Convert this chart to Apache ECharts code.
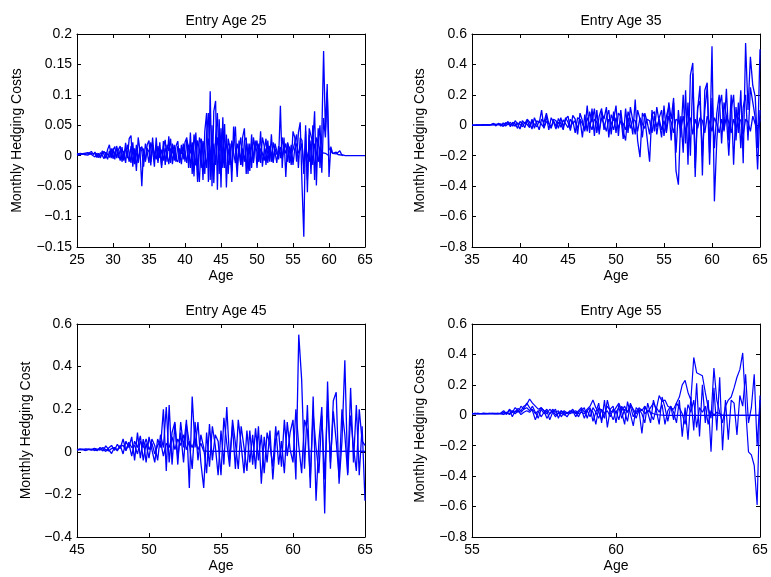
<!DOCTYPE html>
<html>
<head>
<meta charset="utf-8">
<script src="https://cdn.jsdelivr.net/npm/echarts@6/dist/echarts.min.js"></script>
<style>html,body{margin:0;padding:0;background:#fff;}#c{width:771px;height:577px;}</style>
</head>
<body>
<div id="c"></div>
<script>
// ---------- DATA ----------
const titles = ['Entry Age 25', 'Entry Age 35', 'Entry Age 45', 'Entry Age 55'];
const yNames = ['Monthly Hedging Costs', 'Monthly Hedging Costs', 'Monthly Hedging Cost', 'Monthly Hedging Costs'];
const xName = 'Age';
const xRanges = [[25, 65, 5], [35, 65, 5], [45, 65, 5], [55, 65, 5]];
const yRanges = [[-0.15, 0.2, 0.05], [-0.8, 0.6, 0.2], [-0.4, 0.6, 0.2], [-0.8, 0.6, 0.2]];

// Panel 1: entry age 25, quarterly samples starting at age 25
const p1Start = 25, p1Step = 0.25;
const p1PathA = [
 0.002,0.003,0.002,0.004, 0.003,0.004,0.003,0.005, 0.007,0.002,0.006,-0.003, 0.004,-0.004,0.008,0.002,
 -0.004,0.010,0.018,-0.002, 0.012,-0.006,0.016,0.004, -0.008,0.014,-0.006,0.021, -0.004,0.028,0.033,-0.018,
 0.012,-0.025,0.030,0.008, -0.050,0.012,-0.010,0.018, 0.025,-0.016,0.030,-0.006, 0.018,-0.012,0.022,-0.016,
 0.014,0.026,-0.010,0.032, -0.012,0.020,-0.008,0.016, 0.024,-0.012,0.018,-0.006, 0.022,0.030,-0.020,0.038,
 -0.030,0.035,0.012,-0.043, 0.030,0.020,-0.040,0.040, 0.070,-0.043,0.106,-0.050, 0.073,0.090,-0.056,0.060,
 -0.052,0.063,-0.020,0.035, -0.030,0.020,-0.043,0.048, 0.010,-0.035,0.025,-0.015, 0.030,0.045,-0.030,0.020,
 -0.025,0.035,-0.010,0.025, -0.020,0.020,-0.012,0.030, 0.016,-0.015,0.025,-0.010, 0.035,-0.012,0.020,0.008,
 -0.006,0.082,-0.020,0.030, -0.035,0.022,0.010,-0.015, 0.040,0.030,-0.010,0.038, 0.055,-0.047,-0.133,0.050,
 -0.060,0.045,0.048,0.020, 0.073,-0.049,0.045,-0.020, 0.035,0.172,0.040,0.118, -0.035,0.015,0.004,0.005,
 0.003,0.006,0.008,0.002, 0.001,0,0,0, 0,0,0,0, 0,0,0,0, 0
];
const p1PathB = [
 0.001,0.002,0.003,0.002, 0.004,0.002,0.005,0.003, 0.002,0.005,-0.002,0.004, 0.006,-0.002,0.003,0.007,
 0.002,-0.006,0.008,-0.004, 0.009,0.015,-0.004,0.010, 0.016,-0.010,0.008,-0.012, 0.018,0.006,-0.012,0.022,
 -0.014,0.018,-0.008,0.014, 0.008,-0.018,0.020,0.006, -0.012,0.022,0.010,-0.018, 0.030,-0.008,0.012,-0.020,
 0.024,-0.015,0.018,0.008, 0.028,-0.014,0.010,-0.010, 0.016,0.006,-0.014,0.020, -0.010,0.026,0.014,-0.020,
 0.018,-0.034,0.038,-0.015, -0.043,0.028,0.012,-0.030, 0.035,0.070,-0.040,0.050, -0.045,0.030,0.070,-0.030,
 0.045,-0.010,0.052,-0.052, 0.028,0.012,-0.025,0.018, 0.048,-0.020,0.012,0.030, -0.018,0.025,0.030,-0.030,
 0.020,-0.020,0.030,0.010, 0.025,-0.008,0.040,-0.018, 0.010,0.028,-0.012,0.015, -0.010,0.022,0.006,-0.012,
 0.016,-0.004,0.030,0.010, 0.020,-0.010,0.015,0.004, 0.010,0.022,0.035,-0.020, 0.030,0.025,-0.030,0.040,
 -0.040,0.035,-0.030,0.050, -0.040,0.030,0.020,0.050, -0.028,0.062,0.030,0.105, 0.012,0.008,0.004,0.002,
 0.006,0.002,0.004,0.001, 0
];
const p1PathC = [
 0.003,0.001,0.004,0.002, 0.002,0.005,0.001,0.004, 0.004,0.001,0.003,0.006, -0.003,0.005,0.001,-0.005,
 0.006,0.002,-0.003,0.012, -0.005,0.006,0.011,-0.004, 0.010,0.002,-0.008,0.012, 0.005,-0.010,0.016,0.002,
 0.010,0.004,-0.012,0.008, 0.015,0.004,-0.008,0.012, 0.006,-0.010,0.014,0.003, -0.006,0.016,-0.004,0.010,
 -0.008,0.012,0.004,-0.014, 0.012,0.004,0.018,-0.006, -0.010,0.012,0.003,0.014, 0.006,-0.012,0.018,0.004,
 0.022,0.004,-0.016,0.025, 0.010,-0.020,0.024,0.006, -0.020,0.028,0.010,-0.025, 0.020,-0.015,0.030,0.008,
 0.025,-0.020,0.010,0.020, 0.010,-0.015,0.025,0.005, -0.012,0.020,0.008,-0.015, 0.012,-0.010,0.018,0.004,
 0.008,0.015,-0.012,0.018, 0.006,-0.010,0.012,0.004, -0.008,0.012,0.003,0.016, 0.004,-0.010,0.012,0.002,
 0.008,0.014,-0.005,0.012, 0.004,0.020,-0.012,0.018, -0.015,0.012,0.020,0.004, 0.010,0.020,-0.020,0.012,
 0.015,-0.010,0.025,-0.015, 0.020,0.005,-0.010,0.015, 0.005,0.002,0.004,0.001, 0
];

// Panel 2: entry age 35, quarterly samples starting at age 35
const p2Start = 35, p2Step = 0.25;
const p2PathA = [
 0,0.001,0.002,0.001, 0.003,0.002,0.004,0.003, 0.006,0.012,0.004,0.010, -0.005,0.015,0.006,0.025,
 -0.010,0.020,0.010,-0.020, 0.025,0.012,-0.015,0.035, -0.010,0.040,-0.020,0.030, 0.015,0.100,-0.020,0.060,
 -0.030,0.050,0.020,-0.025, 0.045,0.010,-0.030,0.050, 0.020,-0.035,0.065,0.040, -0.060,0.080,0.030,-0.040,
 0.130,-0.050,0.110,-0.070, 0.100,-0.060,0.090,0.040, 0.120,-0.080,0.070,0.030, 0.130,-0.070,0.100,-0.040,
 -0.100,0.090,0.040,-0.060, 0.170,-0.100,-0.210,0.080, 0.050,-0.090,-0.240,0.100, -0.040,0.120,0.020,-0.080,
 0.130,-0.050,0.150,0.040, 0.180,-0.300,-0.390,0.060, -0.180,0.230,-0.260,0.330, 0.410,-0.340,0.100,0.260,
 -0.330,0.230,0.280,-0.180, 0.520,-0.500,-0.100,0.120, 0.200,-0.040,0.240,-0.100, 0.200,-0.260,0.120,-0.050,
 0.230,-0.250,0.540,0.100, 0.450,0.260,0.190,-0.150, 0.500
];
const p2PathB = [
 0.001,0,0.002,0.001, 0.002,0.004,0.001,0.003, 0.002,0.008,-0.004,0.012, 0.006,-0.008,0.018,0.004,
 0.020,-0.006,0.030,0.008, -0.025,0.030,0.010,0.040, 0.020,-0.025,0.050,0.010, -0.030,0.040,0.020,0.080,
 0.010,-0.020,0.040,0.030, -0.020,0.050,-0.010,0.040, 0.060,-0.020,0.030,-0.050, 0.050,0.040,-0.080,0.070,
 -0.040,0.090,0.020,0.110, -0.050,0.060,0.110,-0.030, 0.050,0.100,-0.060,0.090, -0.050,0.080,0.060,-0.090,
 0.110,-0.050,0.120,0.030, -0.060,0.100,0.040,-0.080, 0.080,0.020,-0.060,0.070, 0.090,-0.060,0.050,0.100,
 -0.070,0.060,0.120,-0.100, 0.150,-0.180,0.100,-0.080, 0.200,-0.120,0.150,-0.200, 0.340,-0.280,0.120,0.160,
 -0.200,0.100,0.250,-0.260, 0.180,-0.150,0.080,0.200, -0.120,0.150,0.060,-0.200, 0.100,0.200,-0.100,0.150,
 -0.150,0.120,0.200,-0.100, 0.250,0.150,0.050,-0.290, 0.100
];
const p2PathC = [
 0,0.001,0,0.002, 0.001,0.002,0.003,0.002, 0.004,0.002,0.006,0.003, 0.008,0.002,-0.004,0.010,
 0.004,0.012,-0.006,0.015, 0.008,-0.010,0.020,0.005, -0.015,0.025,0.008,-0.010, 0.030,0.005,-0.015,0.025,
 0.012,-0.010,0.030,-0.005, 0.020,-0.012,0.035,0.010, -0.015,0.040,0.010,0.030, -0.020,0.040,0.010,-0.030,
 0.050,0.010,-0.030,0.040, 0.020,-0.035,0.050,0.010, -0.040,0.040,0.020,-0.030, 0.050,-0.020,0.030,0.010,
 -0.030,0.050,-0.020,0.040, 0.030,-0.040,0.050,0.010, -0.020,0.040,0.030,-0.050, 0.060,-0.010,0.040,-0.030,
 0.030,-0.040,0.060,0.020, -0.050,0.040,0.030,-0.030, 0.060,-0.040,0.020,0.050, -0.060,0.040,-0.020,0.050,
 0.030,-0.050,0.060,0.020, -0.040,0.050,0.010,-0.050, 0.040,-0.030,0.060,0.020, -0.050,0.040,-0.020,0.050,
 0.030,-0.060,0.040,0.020, -0.040,0.060,0.010,-0.030, 0.040
];

// Panel 3: entry age 45, samples every 0.2 years starting at age 45
const p3Start = 45, p3Step = 0.2;
const p3PathA = [
 0.010,0.010,0.012,0.008,0.010, 0.012,0.006,0.010,0.014,0.004, 0.028,0.010,-0.008,0.020,0.004,
 0.030,-0.010,0.050,0.020,0.070, -0.040,0.090,-0.030,0.060,-0.050, 0.070,0.010,-0.050,0.060,0.020,
 0.200,-0.090,0.220,-0.060,0.130, -0.060,0.140,0.020,0.150,-0.170, 0.260,0.020,0.140,-0.050,-0.170,
 0.090,-0.070,0.120,0.030,-0.110, 0.100,-0.060,0.210,-0.040,0.120, -0.080,0.150,0.030,-0.100,0.100,
 -0.050,0.080,-0.080,0.120,-0.150, 0.070,-0.050,0.100,-0.130,0.060, 0.100,-0.070,0.150,-0.020,0.090,
 0.150,-0.130,0.550,0.340,-0.080, 0.220,-0.170,0.260,-0.230,0.050, 0.210,-0.290,0.330,-0.080,0.240,
 0.280,-0.150,0.050,0.430,-0.100, 0.300,-0.050,0.220,-0.110,0.120, -0.230
];
const p3PathB = [
 0.008,0.012,0.010,0.006,0.012, 0.008,0.014,0.005,0.020,0.012, 0.002,0.018,0.030,0.006,0.035,
 0.015,0.060,0.005,0.040,-0.020, 0.050,0.020,0.075,-0.040,0.040, -0.030,0.060,0.030,-0.040,0.080,
 0.020,0.210,-0.050,0.090,0.140, -0.030,0.090,-0.050,0.130,0.040, -0.080,0.140,-0.040,0.080,0.020,
 -0.100,0.130,-0.040,0.080,0.050, -0.110,0.160,0.040,-0.070,0.150, 0.040,-0.080,0.120,0.020,-0.090,
 0.100,-0.060,0.110,-0.040,0.080, -0.100,0.090,0.030,-0.070,0.120, -0.060,0.050,-0.100,0.140,0.010,
 -0.050,0.200,0.030,-0.100,0.150, 0.100,-0.120,0.180,0.020,-0.100, 0.170,-0.130,0.240,-0.050,0.190,
 0.050,-0.120,0.200,0.080,-0.110, 0.170,0.020,-0.090,0.200,0.050, 0.030
];
const p3PathC = [
 0.010,0.012,0.010,0.014,0.012, 0.010,0.016,0.012,0.008,0.020, 0.010,0.004,0.015,0.020,0.010,
 0.025,0.030,0.008,0.045,0.020, 0.030,-0.010,0.050,0.020,0.060, 0.010,0.040,-0.010,0.030,0.050,
 -0.020,0.040,0.020,0.070,0.010, 0.060,0.030,0.080,0.010,0.050, 0.020,0.060,0.010,0.040,0.003,
 0.003,0.002,0.003,0.002,0.003, 0.002,0.003,0.002,0.002,0.003, 0.002,0.002,0.003,0.002,0.002,
 0.003,0.002,0.002,0.003,0.002, 0.002,0.003,0.002,0.002,0.003, 0.002,0.002,0.003,0.002,0.002,
 0.003,0.002,0.002,0.003,0.002, 0.002,0.003,0.002,0.002,0.003, 0.002,0.002,0.003,0.002,0.002,
 0.003,0.002,0.002,0.003,0.002, 0.002,0.003,0.002,0.002,0.003, 0.002
];

// Panel 4: entry age 55, samples every 0.1 years starting at age 55
const p4Start = 55, p4Step = 0.1;
const p4PathA = [
 0.012,0.010,0.013,0.011,0.012,0.010,0.013,0.012,0.011,0.013,
 0.010,0.005,0.020,0.010,0.030,0.020,0.045,0.030,0.060,0.070,
 0.107,0.080,0.060,0.040,0.050,0.030,0.010,0.040,0.020,-0.010,
 0.020,0.010,0.030,0.015,0.020,0.040,0.010,0.030,0.050,0.020,
 0.040,0.060,0.100,0.050,0.020,-0.030,0.010,0.060,0.030,0.020,
 0.050,0.080,0.030,0.060,0.020,0.070,0.040,0.010,0.050,0.030,
 0.060,0.020,0.050,0.080,0.040,0.130,0.090,0.100,0.060,0.050,
 0.040,0.080,0.120,0.200,0.230,0.150,0.100,0.380,0.280,0.270,
 0.260,0.150,0.050,-0.020,0.310,0.100,0.020,-0.050,0.060,0.100,
 0.120,0.180,0.250,0.300,0.410,0.050,-0.240,-0.260,-0.330,-0.590,
 0.130
];
const p4PathB = [
 0.010,0.012,0.010,0.011,0.010,0.012,0.010,0.011,0.012,0.010,
 0.015,0.030,0.010,0.040,0.020,0.050,0.030,0.020,0.040,0.050,
 0.030,0.060,0.020,-0.020,0.040,0.010,0.030,-0.030,0.020,0.040,
 -0.020,0.030,0.010,-0.010,0.020,0.030,-0.010,0.020,0.040,-0.020,
 0.030,0.050,-0.040,0.020,0.080,-0.050,0.100,-0.080,0.040,0.060,
 -0.050,0.070,0.020,-0.060,0.090,0.010,-0.070,0.050,0.030,-0.120,
 0.060,0.020,-0.050,0.100,0.030,-0.060,0.120,0.050,-0.040,0.060,
 0.020,-0.050,0.100,-0.140,0.050,-0.160,0.120,-0.100,0.210,-0.140,
 0.200,-0.050,0.100,-0.240,0.180,-0.100,0.250,-0.230,0.100,-0.160,
 0.100,0.080,-0.130,0.130,0.060,0.270,-0.050,0.050,0.270,-0.200,
 0.100
];
const p4PathC = [
 0.011,0.010,0.012,0.010,0.013,0.011,0.012,0.010,0.011,0.012,
 0.010,0.020,0.005,0.035,-0.010,0.030,0.020,0.060,0.040,0.080,
 0.050,0.030,-0.030,0.020,0.050,0.030,-0.020,0.010,0.040,0.020,
 0.030,-0.010,0.020,0.010,0.030,0.015,0.020,-0.010,0.030,0.050,
 -0.020,0.040,0.020,-0.060,0.050,0.030,-0.020,0.100,0.020,-0.030,
 0.030,-0.030,0.060,0.020,-0.040,0.080,0.030,-0.020,0.040,0.010,
 -0.050,0.080,0.010,-0.030,0.050,0.020,0.070,-0.060,0.030,0.060,
 -0.030,0.080,0.050,0.010,-0.060,0.070,0.020,0.100,-0.080,0.050,
 0.020,0.060,-0.060,0.030,0,0.020,0.010,0,0,0,
 0,0,0,0,0,0,0,0,0,0,
 0
];
const p4PathD = [
 0.010,0.012,0.011,0.010,0.012,0.011,0.010,0.012,0.011,0.010,
 0.012,0.008,0.018,0.005,0.020,0.010,0.030,0.005,0.020,0.030,
 0.020,0.040,0.010,0.030,-0.010,0.020,0.040,0.010,0.030,0.005,
 0.010,0.030,0,0.020,0.010,0.020,0.030,0.010,0.020,0.010,
 0.030,-0.010,0.050,0.020,-0.020,0.040,0.010,0.030,-0.010,0.040,
 0.020,0.050,-0.020,0.040,0.020,0.060,-0.010,0.030,0.020,0.040,
 0.010,0.030,0.020,0.010,0.005,0.002,0.001,0,0,0,
 0,0,0,0,0,0,0,0,0,0,
 0,0,0,0,0,0,0,0,0,0,
 0,0,0,0,0,0,0,0,0,0,
 0
];

const panelPaths = [
  [p1Start, p1Step, [p1PathA, p1PathB, p1PathC]],
  [p2Start, p2Step, [p2PathA, p2PathB, p2PathC]],
  [p3Start, p3Step, [p3PathA, p3PathB, p3PathC]],
  [p4Start, p4Step, [p4PathA, p4PathB, p4PathC, p4PathD]]
];

// ---------- LAYOUT / STYLE ----------
const FONT = '"Liberation Sans", Arial, Helvetica, sans-serif';
const grids = [
  {left: 77, top: 34, width: 288, height: 213},
  {left: 472, top: 34, width: 288, height: 213},
  {left: 77, top: 324, width: 288, height: 213},
  {left: 472, top: 324, width: 288, height: 213}
];
const yNameGaps = [53, 45, 44, 45];
const lineWidths = [1.3, 1.3, 1.3, 1.2];

function fmt(v) {
  const s = String(parseFloat(Number(v).toFixed(4)));
  return s.replace('-', '\u2212');
}
function pairs(start, step, vals) {
  return vals.map((v, i) => [Math.round((start + i * step) * 10000) / 10000, v]);
}

const xAxes = [], yAxes = [], series = [], titleOpts = [];
grids.forEach((g, i) => {
  const [xmin, xmax, xint] = xRanges[i];
  const [ymin, ymax, yint] = yRanges[i];
  const tick = {show: true, inside: true, length: 4, lineStyle: {color: '#000', width: 1}};
  const line = {show: true, onZero: false, lineStyle: {color: '#000', width: 1}};
  xAxes.push({
    type: 'value', gridIndex: i, position: 'bottom', min: xmin, max: xmax, interval: xint,
    axisLine: line, axisTick: tick, splitLine: {show: false},
    axisLabel: {color: '#000', fontSize: 14, fontFamily: FONT, margin: 6, formatter: fmt},
    name: xName, nameLocation: 'middle', nameGap: 22,
    nameTextStyle: {color: '#000', fontSize: 14, fontFamily: FONT}
  });
  xAxes.push({
    type: 'value', gridIndex: i, position: 'top', min: xmin, max: xmax, interval: xint,
    axisLine: line, axisTick: tick, splitLine: {show: false}, axisLabel: {show: false}
  });
  yAxes.push({
    type: 'value', gridIndex: i, position: 'left', min: ymin, max: ymax, interval: yint,
    axisLine: line, axisTick: tick, splitLine: {show: false},
    axisLabel: {color: '#000', fontSize: 14, fontFamily: FONT, margin: 5, formatter: fmt},
    name: yNames[i], nameLocation: 'middle', nameGap: yNameGaps[i], nameRotate: 90,
    nameTextStyle: {color: '#000', fontSize: 14, fontFamily: FONT}
  });
  yAxes.push({
    type: 'value', gridIndex: i, position: 'right', min: ymin, max: ymax, interval: yint,
    axisLine: line, axisTick: tick, splitLine: {show: false}, axisLabel: {show: false}
  });
  titleOpts.push({
    text: titles[i], left: g.left + g.width / 2, top: g.top - 25, textAlign: 'center',
    textStyle: {color: '#000', fontSize: 14, fontWeight: 'normal', fontFamily: FONT}
  });
  const [start, step, paths] = panelPaths[i];
  paths.forEach(p => {
    series.push({
      type: 'line', xAxisIndex: 2 * i, yAxisIndex: 2 * i, data: pairs(start, step, p),
      showSymbol: false, symbol: 'none', silent: true,
      lineStyle: {color: '#0000ff', width: lineWidths[i]}
    });
  });
});

const chart = echarts.init(document.getElementById('c'), null, {renderer: 'canvas'});
chart.setOption({
  animation: false,
  backgroundColor: '#ffffff',
  title: titleOpts,
  grid: grids.map(g => Object.assign({containLabel: false, show: false}, g)),
  xAxis: xAxes,
  yAxis: yAxes,
  series: series
});
</script>
</body>
</html>
